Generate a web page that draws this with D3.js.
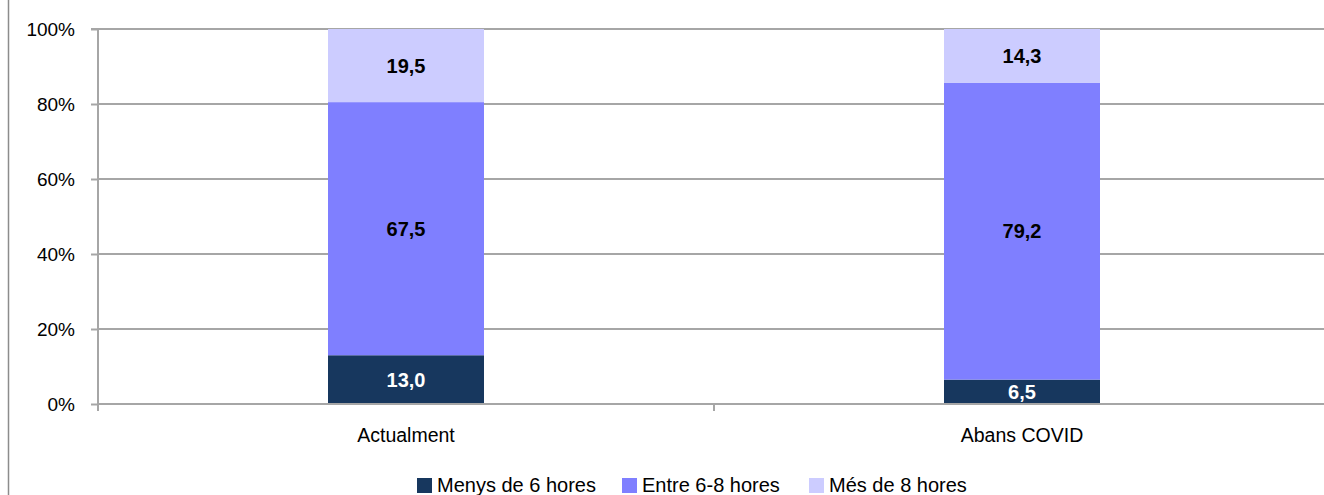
<!DOCTYPE html>
<html>
<head>
<meta charset="utf-8">
<script src="https://cdn.jsdelivr.net/npm/d3@7"></script>
<style>
  body { margin: 0; background: #fff; }
  svg { display: block; }
</style>
</head>
<body>
<div id="chart"></div>
<script>
var width = 1324
var height = 495

// data
var categories = ["Actualment", "Abans COVID"]
var seriesNames = ["Menys de 6 hores", "Entre 6-8 hores", "Més de 8 hores"]
var menys6 = [13.0, 6.5]
var entre68 = [67.5, 79.2]
var mes8 = [19.5, 14.3]
var yTicks = [0, 20, 40, 60, 80, 100]

var colors = ["#17375E", "#7F7FFF", "#CCCCFF"]
var labelColors = ["#ffffff", "#000000", "#000000"]
var FONT = "'Liberation Sans', Arial, sans-serif"

var margin = {top: 29, right: -6, bottom: 91, left: 98}

var svg = d3.select("#chart")
    .append("svg")
    .attr("width", width)
    .attr("height", height)

// outer frame line on the left
svg.append("line")
    .attr("x1", 8.5).attr("x2", 8.5)
    .attr("y1", 0).attr("y2", height)
    .style("stroke", "#8c8c8c")
    .style("stroke-width", 1.5)

var x = d3.scaleBand()
    .domain(categories)
    .range([margin.left, width - margin.right])

var y = d3.scaleLinear()
    .domain([0, 100])
    .range([height - margin.bottom, margin.top])

// build stacked table
var table = categories.map(function(c, i) {
    return {cat: c, s0: menys6[i], s1: entre68[i], s2: mes8[i]}
})
var stack = d3.stack().keys(["s0", "s1", "s2"])
    .offset(d3.stackOffsetExpand)
var layers = stack(table)

// gridlines
svg.append("g")
    .selectAll("line")
    .data(yTicks.slice(1))
    .enter().append("line")
    .attr("x1", margin.left).attr("x2", width)
    .attr("y1", d => y(d)).attr("y2", d => y(d))
    .style("stroke", "#a6a6a6")
    .style("stroke-width", 2)

var barW = 156

layers.forEach(function(layer, k) {
    var g = svg.append("g")
    g.selectAll("rect")
        .data(layer)
        .enter().append("rect")
        .attr("x", d => x(d.data.cat) + x.bandwidth() / 2 - barW / 2)
        .attr("width", barW)
        .attr("y", d => y(d[1] * 100))
        .attr("height", d => y(d[0] * 100) - y(d[1] * 100))
        .style("fill", colors[k])

    g.selectAll("text")
        .data(layer)
        .enter().append("text")
        .attr("x", d => x(d.data.cat) + x.bandwidth() / 2)
        .attr("y", d => (y(d[0] * 100) + y(d[1] * 100)) / 2)
        .attr("dy", ".36em")
        .attr("text-anchor", "middle")
        .style("font", "bold 20px " + FONT)
        .style("fill", labelColors[k])
        .text(d => d.data["s" + k].toFixed(1).replace(".", ","))
})

// y axis
var yAxis = d3.axisLeft(y)
    .tickValues(yTicks)
    .tickSize(7)
    .tickPadding(16)
    .tickFormat(d => d + "%")

var yG = svg.append("g")
    .attr("transform", "translate(" + margin.left + ",0)")
    .call(yAxis)
yG.select(".domain").attr("d", "M0," + y(0) + "V" + y(100) + "M-7," + y(100) + "H0")
yG.selectAll("path, line").style("stroke", "#a6a6a6").style("stroke-width", 2)
yG.selectAll("text")
    .style("font", "19px " + FONT)
    .style("fill", "#000")

// x axis
var xG = svg.append("g")
    .attr("transform", "translate(0," + y(0) + ")")
xG.append("line")
    .attr("x1", margin.left).attr("x2", width)
    .style("stroke", "#a6a6a6").style("stroke-width", 2)
var bounds = [margin.left, x(categories[1]), width - margin.right]
xG.selectAll("line.tick")
    .data(bounds)
    .enter().append("line")
    .attr("class", "tick")
    .attr("x1", d => d).attr("x2", d => d)
    .attr("y1", 0).attr("y2", 7)
    .style("stroke", "#a6a6a6").style("stroke-width", 2)
xG.selectAll("text")
    .data(categories)
    .enter().append("text")
    .attr("x", d => x(d) + x.bandwidth() / 2)
    .attr("y", 38)
    .attr("text-anchor", "middle")
    .style("font", "19.5px " + FONT)
    .text(d => d)

// legend
var legendX = [417, 622, 809]
var legend = svg.append("g")
    .selectAll("g")
    .data(seriesNames)
    .enter().append("g")
    .attr("transform", (d, i) => "translate(" + legendX[i] + ",478)")
legend.append("rect")
    .attr("width", 15).attr("height", 15)
    .style("fill", (d, i) => colors[i])
legend.append("text")
    .attr("x", 20).attr("y", 14)
    .style("font", "20px " + FONT)
    .text(d => d)
</script>
</body>
</html>
